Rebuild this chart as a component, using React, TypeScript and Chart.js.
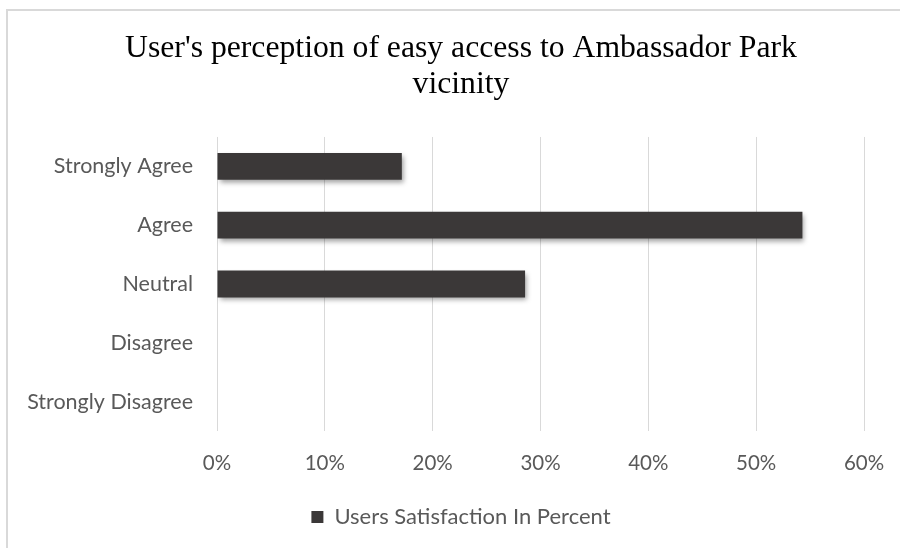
import React, { useEffect, useRef } from "react";
import { Chart, registerables } from "chart.js";

Chart.register(...registerables);

const titleLines = ["User's perception of easy access to Ambassador Park", "vicinity"];
const categories = ["Strongly Agree", "Agree", "Neutral", "Disagree", "Strongly Disagree"];
const seriesLabel = "Users Satisfaction In Percent";
const seriesValues = [17.14, 54.29, 28.57, 0, 0];
const xTicks = [0, 10, 20, 30, 40, 50, 60];

const LABEL_FONT = "Lato, 'Liberation Sans', sans-serif";
const GRAY = "#595959";
const BAR = "#3b3838";

const shadowPlugin = {
  id: "barShadow",
  afterLayout(chart: any) {
    // let the category labels extend to the left edge without being clipped
    const y = chart.scales.y;
    if (y) y.left = 0;
  },
  beforeDatasetsDraw(chart: any) {
    const ctx = chart.ctx;
    ctx.save();
    ctx.shadowColor = "rgba(0,0,0,0.38)";
    ctx.shadowBlur = 5;
    ctx.shadowOffsetX = 2;
    ctx.shadowOffsetY = 3;
  },
  afterDatasetsDraw(chart: any) {
    chart.ctx.restore();
  },
};

export default function App() {
  const ref = useRef<HTMLCanvasElement | null>(null);

  useEffect(() => {
    if (!ref.current) return;
    const chart = new Chart(ref.current, {
      type: "bar",
      data: {
        labels: categories,
        datasets: [
          {
            label: seriesLabel,
            data: seriesValues,
            backgroundColor: BAR,
            borderWidth: 0,
            barPercentage: 0.456,
            categoryPercentage: 1,
          },
        ],
      },
      plugins: [shadowPlugin],
      options: {
        indexAxis: "y",
        animation: false,
        responsive: false,
        maintainAspectRatio: false,
        layout: { padding: { left: 58, right: 36, top: 0, bottom: 10 } },
        plugins: {
          title: {
            display: true,
            text: titleLines,
            color: "#000000",
            font: { family: "'Liberation Serif', 'Times New Roman', serif", size: 31.7, weight: "normal", lineHeight: 1.135 },
            padding: { top: 30.5, bottom: 34.5 },
          },
          legend: {
            display: true,
            position: "bottom",
            labels: {
              color: GRAY,
              font: { family: LABEL_FONT, size: 22 },
              boxWidth: 12,
              boxHeight: 12,
              padding: 10,
            },
          },
          tooltip: { enabled: false },
        },
        scales: {
          x: {
            min: 0,
            max: 60,
            afterBuildTicks: (s: any) => {
              s.ticks = xTicks.map((v) => ({ value: v }));
            },
            afterFit: (s: any) => {
              s.height = 65;
              s.paddingLeft = 0;
              s.paddingRight = 0;
            },
            ticks: {
              color: GRAY,
              font: { family: LABEL_FONT, size: 20.5 },
              padding: 20,
              callback: (v: any) => v + "%",
            },
            grid: { color: "#d9d9d9", lineWidth: 1, drawTicks: false },
            border: { display: false },
          },
          y: {
            afterFit: (s: any) => {
              s.width = 159;
              s.paddingTop = 0;
              s.paddingBottom = 0;
            },
            ticks: {
              color: GRAY,
              font: { family: LABEL_FONT, size: 21.5 },
              padding: 24,
            },
            grid: { display: false, drawTicks: false },
            border: { display: false },
          },
        },
      },
    } as any);
    return () => chart.destroy();
  }, []);

  return (
    <div
      style={{
        position: "fixed",
        left: 0,
        top: 0,
        width: 900,
        height: 548,
        overflow: "hidden",
        background: "#ffffff",
      }}
    >
      <div
        style={{
          position: "absolute",
          left: 6,
          top: 9,
          width: 1000,
          height: 1000,
          borderLeft: "2px solid #d9d9d9",
          borderTop: "2px solid #d9d9d9",
        }}
      />
      <canvas ref={ref} width={900} height={548} style={{ position: "absolute", left: 0, top: 0 }} />
    </div>
  );
}
